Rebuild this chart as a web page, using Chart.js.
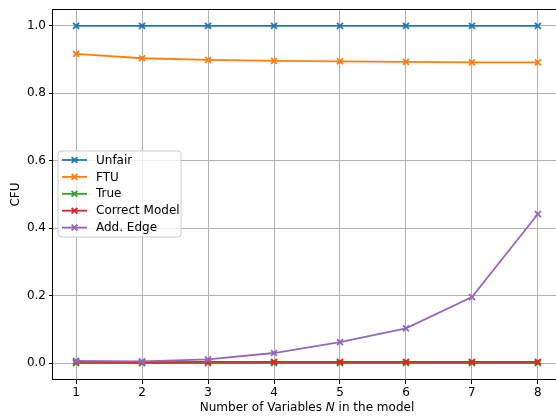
<!DOCTYPE html>
<html>
<head>
<meta charset="utf-8">
<script src="https://cdn.jsdelivr.net/npm/chart.js@4/dist/chart.umd.min.js"></script>
<style>
  html, body { margin: 0; padding: 0; background: #fff; overflow: hidden; width: 556px; height: 416px; }
  #wrap { width: 562px; height: 416px; }
</style>
</head>
<body>
<div id="wrap"><canvas id="c" width="562" height="416"></canvas></div>
<script>
// Number of variables N in the model
const nVars = [1, 2, 3, 4, 5, 6, 7, 8];

// CFU per model variant
const unfair       = [1.000, 1.000, 1.000, 1.000, 1.000, 1.000, 1.000, 1.000];
const ftu          = [0.917, 0.904, 0.899, 0.896, 0.895, 0.893, 0.892, 0.892];
const trueModel    = [0.000, 0.000, 0.000, 0.000, 0.000, 0.000, 0.000, 0.000];
const correctModel = [0.004, 0.003, 0.004, 0.004, 0.004, 0.004, 0.004, 0.004];
const addEdge      = [0.007, 0.005, 0.011, 0.030, 0.062, 0.103, 0.196, 0.442];

const yTicks = [0.0, 0.2, 0.4, 0.6, 0.8, 1.0];

const seriesNames  = ['Unfair', 'FTU', 'True', 'Correct Model', 'Add. Edge'];
const seriesValues = [unfair, ftu, trueModel, correctModel, addEdge];
const seriesColors = ['#1f77b4', '#ff7f0e', '#2ca02c', '#d62728', '#9467bd'];

const FONT = 'DejaVu Sans';
const PLOT = { left: 53, top: 9, right: 561, bottom: 380 };

const datasets = seriesNames.map((name, i) => ({
  label: name,
  data: nVars.map((x, j) => ({ x: x, y: seriesValues[i][j] })),
  borderColor: seriesColors[i],
  backgroundColor: seriesColors[i],
  borderWidth: 1.8,
  pointStyle: 'crossRot',
  pointRadius: 4.2,
  pointBorderWidth: 1.8,
  pointHoverRadius: 4.2,
  tension: 0,
  fill: false,
  order: seriesNames.length - i
}));

// Frame, axis titles and legend box
const decor = {
  id: 'decor',
  afterDatasetsDraw(chart) {
    const ctx = chart.ctx;
    const a = chart.chartArea;
    ctx.save();
    // axes frame
    ctx.strokeStyle = '#000';
    ctx.lineWidth = 1;
    ctx.strokeRect(Math.round(a.left) - 0.5, Math.round(a.top) + 0.5,
                   Math.round(a.right - a.left) + 1, Math.round(a.bottom - a.top) - 1);

    // legend
    const lx = 58, ly = 151, lw = 123, lh = 86, r = 3;
    ctx.beginPath();
    ctx.moveTo(lx + r, ly);
    ctx.arcTo(lx + lw, ly, lx + lw, ly + lh, r);
    ctx.arcTo(lx + lw, ly + lh, lx, ly + lh, r);
    ctx.arcTo(lx, ly + lh, lx, ly, r);
    ctx.arcTo(lx, ly, lx + lw, ly, r);
    ctx.closePath();
    ctx.fillStyle = 'rgba(255,255,255,0.8)';
    ctx.fill();
    ctx.strokeStyle = '#cccccc';
    ctx.lineWidth = 1;
    ctx.stroke();

    ctx.font = '12px "' + FONT + '"';
    ctx.textBaseline = 'middle';
    ctx.textAlign = 'left';
    chart.data.datasets.forEach((ds, i) => {
      const y = 160 + i * 16.9;
      ctx.strokeStyle = ds.borderColor;
      ctx.lineWidth = 1.8;
      ctx.beginPath();
      ctx.moveTo(62, y);
      ctx.lineTo(87, y);
      ctx.stroke();
      const cx = 74.5, d = 2.9;
      ctx.beginPath();
      ctx.moveTo(cx - d, y - d); ctx.lineTo(cx + d, y + d);
      ctx.moveTo(cx - d, y + d); ctx.lineTo(cx + d, y - d);
      ctx.stroke();
      ctx.fillStyle = '#000';
      ctx.fillText(ds.label, 96, y + 0.5);
    });

    // y axis title
    ctx.fillStyle = '#000';
    ctx.save();
    ctx.translate(16, (a.top + a.bottom) / 2);
    ctx.rotate(-Math.PI / 2);
    ctx.textAlign = 'center';
    ctx.textBaseline = 'middle';
    ctx.fillText('CFU', 0, 0);
    ctx.restore();

    // x axis title with italic N
    const parts = [
      { t: 'Number of Variables ', f: '12px "' + FONT + '"' },
      { t: 'N', f: 'oblique 12px "' + FONT + '"' },
      { t: ' in the model', f: '12px "' + FONT + '"' }
    ];
    let total = 0;
    parts.forEach(p => { ctx.font = p.f; p.w = ctx.measureText(p.t).width; total += p.w; });
    let x = (a.left + a.right) / 2 - total / 2;
    ctx.textAlign = 'left';
    ctx.textBaseline = 'middle';
    parts.forEach(p => { ctx.font = p.f; ctx.fillText(p.t, x, 408); x += p.w; });
    ctx.restore();
  }
};

new Chart(document.getElementById('c'), {
  type: 'line',
  data: { datasets: datasets },
  options: {
    responsive: false,
    animation: false,
    events: [],
    layout: { autoPadding: false, padding: { left: 0, top: PLOT.top, right: 562 - PLOT.right, bottom: 0 } },
    plugins: { legend: { display: false }, tooltip: { enabled: false } },
    scales: {
      x: {
        type: 'linear',
        min: 0.65, max: 8.35,
        afterBuildTicks(s) { s.ticks = nVars.map(v => ({ value: v })); },
        afterFit(s) { s.height = 416 - PLOT.bottom; s.paddingLeft = 0; s.paddingRight = 0; },
        grid: { color: '#b0b0b0', lineWidth: 1, tickColor: '#000', tickLength: 4, drawOnChartArea: true },
        border: { display: false },
        ticks: { color: '#000', font: { family: FONT, size: 12 }, padding: 2, maxRotation: 0,
                 callback: v => String(v) }
      },
      y: {
        type: 'linear',
        min: -0.05, max: 1.05,
        afterBuildTicks(s) { s.ticks = yTicks.map(v => ({ value: v })); },
        afterFit(s) { s.width = PLOT.left; s.paddingTop = 0; s.paddingBottom = 0; },
        grid: { color: '#b0b0b0', lineWidth: 1, tickColor: '#000', tickLength: 4 },
        border: { display: false },
        ticks: { color: '#000', font: { family: FONT, size: 12 }, padding: 3,
                 callback: v => v.toFixed(1) }
      }
    }
  },
  plugins: [decor]
});
</script>
</body>
</html>
